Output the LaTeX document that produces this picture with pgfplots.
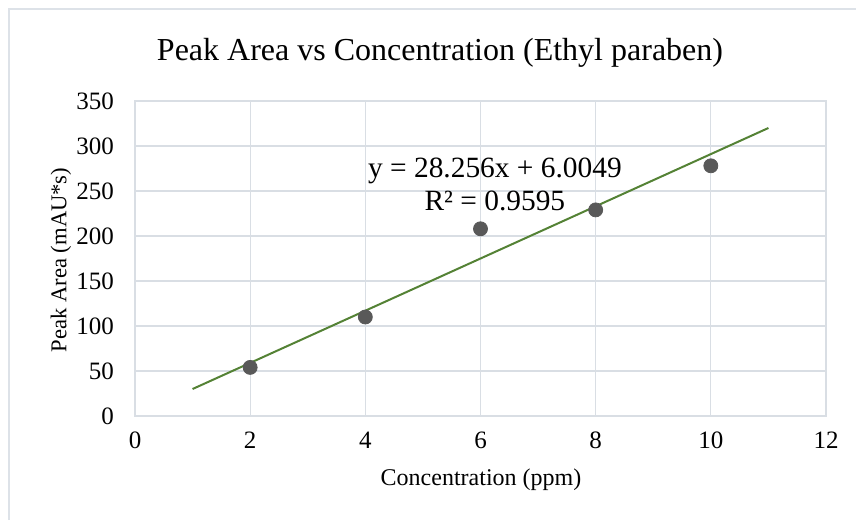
\documentclass[border=0pt]{standalone}
\usepackage{fontspec}
\setmainfont{Liberation Serif}
\usepackage{pgfplots}
\pgfplotsset{compat=1.18}
\definecolor{gridc}{HTML}{D9DEE4}
\definecolor{framec}{HTML}{DDE2E8}
\definecolor{trend}{HTML}{548235}
\definecolor{markc}{HTML}{595959}
\begin{document}
\begin{tikzpicture}
\useasboundingbox (0,0) rectangle (428pt,260pt);
\draw[framec, line width=0.8pt] (4.5pt,0) -- (4.5pt,255.5pt) -- (428pt,255.5pt);
\begin{axis}[
  at={(67.5pt,52pt)}, anchor=south west,
  scale only axis, width=345.5pt, height=157.5pt,
  xmin=0, xmax=12, ymin=0, ymax=350,
  xtick={0,2,...,12}, ytick={0,50,...,350},
  grid=major, major grid style={gridc, line width=0.6pt},
  axis line style={gridc, line width=0.6pt},
  tick style={draw=none},
  /pgf/number format/assume math mode=true,
  ticklabel style={font=\fontsize{12.5}{14}\selectfont},
  yticklabel style={xshift=-7pt},
  xticklabel style={yshift=-4.5pt},
  clip=false,
]
\addplot[trend, line width=1pt] coordinates {(1,30) (11,320)};
\addplot[only marks, mark=*, mark size=3.5pt, mark options={fill=markc, draw=markc}] coordinates {
(2,54) (4,110) (6,208) (8,229) (10,278)};
\node[font=\fontsize{14.7}{16}\selectfont] at (axis cs:6.25,272) {y = 28.256x + 6.0049};
\node[font=\fontsize{14.7}{16}\selectfont] at (axis cs:6.25,239) {R² = 0.9595};
\end{axis}
\node[font=\fontsize{16}{19}\selectfont] at (220pt,233.5pt) {Peak Area vs Concentration (Ethyl paraben)};
\node[font=\fontsize{11.3}{14}\selectfont, rotate=90, inner sep=0pt] at (30.5pt,130pt) {Peak Area (mAU*s)};
\node[font=\fontsize{12}{14}\selectfont] at (240.5pt,20pt) {Concentration (ppm)};
\end{tikzpicture}
\end{document}
